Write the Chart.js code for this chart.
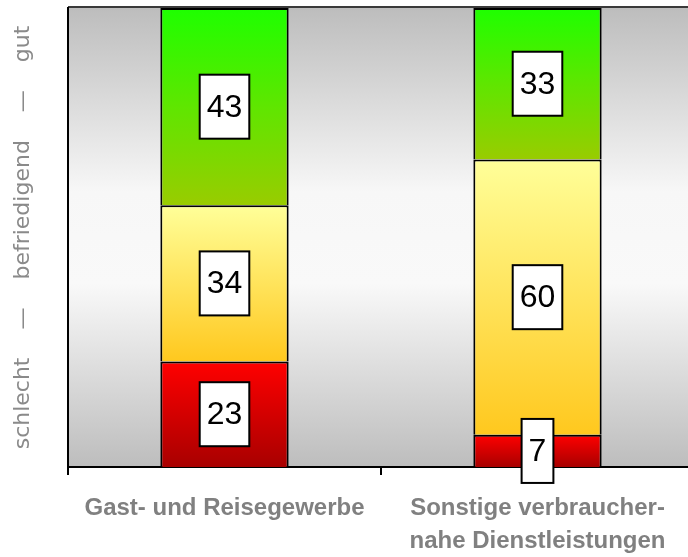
<!DOCTYPE html>
<html>
<head>
<meta charset="utf-8">
<script src="https://cdn.jsdelivr.net/npm/chart.js@4/dist/chart.umd.min.js"></script>
<style>
    html, body { margin: 0; padding: 0; background: #fff; overflow: hidden; }
    canvas { display: block; }
</style>
</head>
<body>
<canvas id="ratingChart" width="700" height="557"></canvas>
<script>
const categories = [
    'Gast- und Reisegewerbe',
    ['Sonstige verbraucher-', 'nahe Dienstleistungen']
];
const schlecht = [23, 7];
const befriedigend = [34, 60];
const gut = [43, 33];

// vertical gradient spanning one stacked segment
function segmentGradient(stops) {
    return function(ctx) {
        const chart = ctx.chart;
        const y = chart.scales.y;
        if (!chart.chartArea || !y) return stops[0];
        let base = 0;
        for (let d = 0; d < ctx.datasetIndex; d++) {
            base += chart.data.datasets[d].data[ctx.dataIndex];
        }
        const top = y.getPixelForValue(base + ctx.raw);
        const bottom = y.getPixelForValue(base);
        const g = chart.ctx.createLinearGradient(0, top, 0, bottom);
        stops.forEach((c, i) => g.addColorStop(i / (stops.length - 1), c));
        return g;
    };
}

const plotBackground = {
    id: 'plotBackground',
    beforeDraw(chart) {
        const { ctx, chartArea: a } = chart;
        const g = ctx.createLinearGradient(0, a.top, 0, a.bottom);
        g.addColorStop(0, '#bdbdbd');
        g.addColorStop(0.4, '#f7f7f7');
        g.addColorStop(0.6, '#f9f9f9');
        g.addColorStop(1, '#bdbdbd');
        ctx.save();
        ctx.fillStyle = g;
        ctx.fillRect(a.left, a.top, a.right - a.left, a.bottom - a.top);
        ctx.strokeStyle = '#3a3a3a';
        ctx.lineWidth = 2;
        ctx.beginPath();
        ctx.moveTo(a.left, a.top - 1);
        ctx.lineTo(a.right, a.top - 1);
        ctx.stroke();
        ctx.restore();
    }
};

// white value boxes in the middle of each segment
const valueBoxes = {
    id: 'valueBoxes',
    afterDatasetsDraw(chart) {
        const ctx = chart.ctx;
        ctx.save();
        ctx.font = '32px "Liberation Sans", Arial, sans-serif';
        ctx.textAlign = 'center';
        ctx.textBaseline = 'middle';
        chart.data.datasets.forEach((ds, i) => {
            chart.getDatasetMeta(i).data.forEach((bar, j) => {
                const text = String(ds.data[j]);
                const w = ctx.measureText(text).width + 14;
                const h = 64;
                const cx = bar.x;
                const cy = (bar.y + bar.base) / 2;
                ctx.fillStyle = '#fff';
                ctx.fillRect(cx - w / 2, cy - h / 2, w, h);
                ctx.strokeStyle = '#000';
                ctx.lineWidth = 2;
                ctx.strokeRect(cx - w / 2, cy - h / 2, w, h);
                ctx.fillStyle = '#000';
                ctx.fillText(text, cx, cy + 1);
            });
        });
        ctx.restore();
    }
};

const barStyle = {
    borderColor: '#000',
    borderWidth: { top: 2, bottom: 0, left: 2, right: 2 },
    borderSkipped: false,
    barPercentage: 0.41,
    categoryPercentage: 1
};

new Chart(document.getElementById('ratingChart').getContext('2d'), {
    type: 'bar',
    data: {
        labels: categories,
        datasets: [
            Object.assign({ label: 'schlecht', data: schlecht,
                backgroundColor: segmentGradient(['#ff0000', '#a80000']) }, barStyle),
            Object.assign({ label: 'befriedigend', data: befriedigend,
                backgroundColor: segmentGradient(['#ffff99', '#ffc81e']) }, barStyle),
            Object.assign({ label: 'gut', data: gut,
                backgroundColor: segmentGradient(['#1eff00', '#5fe600', '#99cc00']) }, barStyle)
        ]
    },
    options: {
        responsive: false,
        animation: false,
        layout: { padding: { top: 8, right: 6, left: 0, bottom: 0 } },
        plugins: {
            legend: { display: false },
            tooltip: { enabled: false }
        },
        scales: {
            x: {
                stacked: true,
                afterFit(scale) { scale.height = 90; },
                border: { color: '#000', width: 2 },
                grid: { drawOnChartArea: false, color: '#000', lineWidth: 2, tickLength: 8 },
                ticks: {
                    color: '#808080',
                    padding: 17,
                    font: { family: '"Liberation Sans", Arial, sans-serif', size: 24, weight: 'bold', lineHeight: 1.37 }
                }
            },
            y: {
                stacked: true,
                min: 0,
                max: 100,
                afterFit(scale) { scale.width = 68; },
                border: { color: '#000', width: 2 },
                grid: { display: false },
                ticks: { display: false },
                title: {
                    display: true,
                    text: 'schlecht    —    befriedigend    —    gut',
                    color: '#8a8a8a',
                    padding: { top: 10, bottom: 0 },
                    font: { family: '"DejaVu Sans", sans-serif', size: 22 }
                }
            }
        }
    },
    plugins: [plotBackground, valueBoxes]
});
</script>
</body>
</html>
